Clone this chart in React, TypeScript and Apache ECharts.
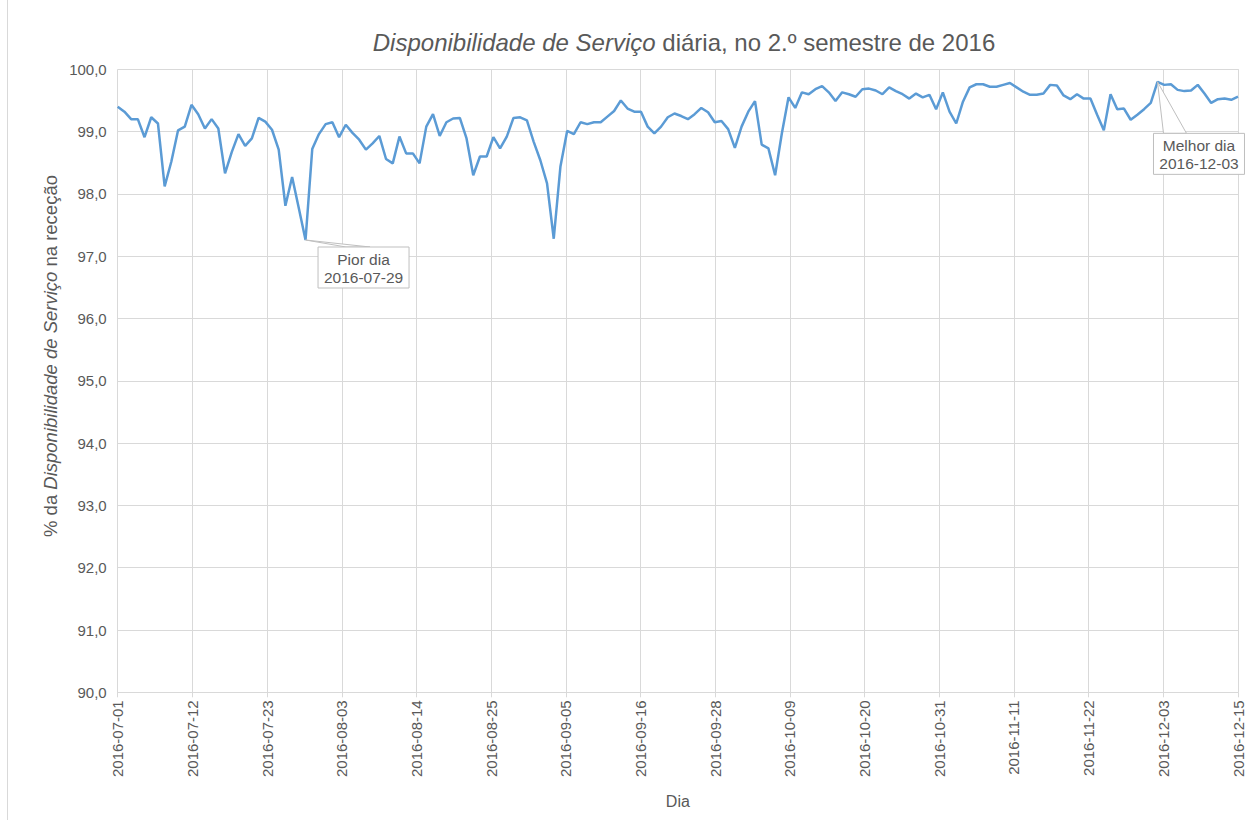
import React, { useEffect, useRef } from "react";
import * as echarts from "echarts";

const START_UTC = Date.UTC(2016, 6, 1);

const availability: number[] = [
  99.40, 99.32, 99.20, 99.20, 98.91, 99.23, 99.13, 98.12, 98.52, 99.02,
  99.08, 99.43, 99.28, 99.05, 99.20, 99.05, 98.33, 98.67, 98.96, 98.77,
  98.89, 99.22, 99.16, 99.03, 98.71, 97.81, 98.27, 97.77, 97.26, 98.72,
  98.96, 99.12, 99.15, 98.91, 99.11, 98.98, 98.87, 98.71, 98.81, 98.93,
  98.56, 98.49, 98.92, 98.65, 98.65, 98.49, 99.08, 99.28, 98.93, 99.15,
  99.21, 99.22, 98.89, 98.30, 98.60, 98.60, 98.91, 98.73, 98.92, 99.22,
  99.23, 99.18, 98.84, 98.54, 98.17, 97.28, 98.44, 99.01, 98.96, 99.15,
  99.12, 99.15, 99.15, 99.24, 99.33, 99.50, 99.37, 99.32, 99.32, 99.08,
  98.97, 99.08, 99.23, 99.29, 99.25, 99.20, 99.28, 99.38, 99.31, 99.15,
  99.17, 99.04, 98.74, 99.08, 99.32, 99.49, 98.79, 98.73, 98.30, 98.97,
  99.55, 99.38, 99.63, 99.60, 99.68, 99.73, 99.63, 99.49, 99.63, 99.60,
  99.56, 99.68, 99.69, 99.66, 99.60, 99.71, 99.65, 99.60, 99.53, 99.61,
  99.55, 99.59, 99.36, 99.63, 99.32, 99.13, 99.48, 99.71, 99.76, 99.76,
  99.72, 99.72, 99.75, 99.78, 99.71, 99.64, 99.59, 99.59, 99.61, 99.75,
  99.74, 99.58, 99.52, 99.60, 99.53, 99.53, 99.27, 99.02, 99.60, 99.36,
  99.37, 99.19, 99.27, 99.36, 99.46, 99.80, 99.75, 99.76, 99.67, 99.65,
  99.66, 99.75, 99.61, 99.46, 99.52, 99.53, 99.51, 99.56,
];

const dayIndex: number[] = availability.map((_, i) => i);
const dayLabels: string[] = dayIndex.map((i) =>
  new Date(START_UTC + i * 86400000).toISOString().slice(0, 10)
);

const TITLE_ITALIC = "Disponibilidade de Serviço";
const TITLE_REST = " diária, no 2.º semestre de 2016";
const Y_NAME_PARTS = ["% da ", "Disponibilidade de Serviço", " na receção"];
const X_NAME = "Dia";
const WORST_TEXT = "Pior dia";
const BEST_TEXT = "Melhor dia";
const Y_MIN = 90;
const Y_MAX = 100;
const Y_STEP = 1;
const X_TICK_COUNT = 15;

const FONT = "'Liberation Sans', Arial, sans-serif";
const TXT = "#595959";
const GRID = "#d9d9d9";
const LINE = "#5b9bd5";
const CALLOUT = "#bfbfbf";

function labelForDay(v: number): string {
  const i = Math.floor(v + 1e-6);
  return new Date(START_UTC + i * 86400000).toISOString().slice(0, 10);
}

export default function App() {
  const ref = useRef<HTMLDivElement | null>(null);

  useEffect(() => {
    if (!ref.current) return;
    const chart = echarts.init(ref.current, undefined, { renderer: "svg" });
    const n = availability.length;
    const seriesData = dayIndex.map((d, i) => [d, availability[i]]);

    chart.setOption({
      animation: false,
      backgroundColor: "#ffffff",
      grid: { left: 117.7, right: 9, top: 69.3, bottom: 127.7, containLabel: false },
      xAxis: {
        type: "value",
        min: 0,
        max: n - 1,
        interval: (n - 1) / X_TICK_COUNT,
        name: X_NAME,
        nameLocation: "middle",
        nameGap: 101,
        nameTextStyle: { color: TXT, fontSize: 16, fontFamily: FONT },
        axisLine: { show: true, lineStyle: { color: GRID, width: 1 } },
        axisTick: { show: true, length: 5, lineStyle: { color: GRID } },
        splitLine: { show: true, lineStyle: { color: GRID, width: 1 } },
        axisLabel: {
          rotate: 90,
          color: TXT,
          fontSize: 15,
          fontFamily: FONT,
          margin: 8,
          showMinLabel: true,
          showMaxLabel: true,
          formatter: (v: number) => labelForDay(v),
        },
      },
      yAxis: {
        type: "value",
        min: Y_MIN,
        max: Y_MAX,
        interval: Y_STEP,
        axisLine: { show: false },
        axisTick: { show: false },
        splitLine: { show: true, lineStyle: { color: GRID, width: 1 } },
        axisLabel: {
          color: TXT,
          fontSize: 15,
          fontFamily: FONT,
          margin: 11,
          formatter: (v: number) => v.toFixed(1).replace(".", ","),
        },
      },
      series: [
        {
          type: "line",
          data: seriesData,
          showSymbol: false,
          symbol: "none",
          lineStyle: { color: LINE, width: 2.5 },
          itemStyle: { color: LINE },
        },
      ],
    });

    let worst = 0;
    let best = 0;
    availability.forEach((v, i) => {
      if (v < availability[worst]) worst = i;
      if (v > availability[best]) best = i;
    });
    const pw = chart.convertToPixel({ xAxisIndex: 0, yAxisIndex: 0 }, [worst, availability[worst]]) as number[];
    const pb = chart.convertToPixel({ xAxisIndex: 0, yAxisIndex: 0 }, [best, availability[best]]) as number[];

    const callout = (p: number[], dx: number, dy: number, w0: number, w1: number, text: string) => {
      const bx = p[0] + dx;
      const by = p[1] + dy;
      const bw = 91;
      const bh = 41;
      return [
        {
          type: "polygon",
          shape: { points: [[p[0], p[1]], [bx + w0, by], [bx + w1, by]] },
          style: { fill: "#ffffff", stroke: CALLOUT, lineWidth: 1 },
          z: 100,
        },
        {
          type: "rect",
          shape: { x: bx, y: by, width: bw, height: bh },
          style: { fill: "#ffffff", stroke: CALLOUT, lineWidth: 1 },
          z: 101,
        },
        {
          type: "text",
          x: bx + bw / 2,
          y: by + bh / 2 + 1,
          style: {
            text,
            fill: TXT,
            fontSize: 15.5,
            fontFamily: FONT,
            align: "center",
            verticalAlign: "middle",
            lineHeight: 18,
          },
          z: 102,
        },
      ];
    };

    chart.setOption({
      graphic: [
        {
          type: "line",
          shape: { x1: 7.5, y1: 0, x2: 7.5, y2: 820 },
          style: { stroke: GRID, lineWidth: 1 },
        },
        {
          type: "text",
          x: 684,
          y: 42,
          style: {
            text: `{i|${TITLE_ITALIC}}{n|${TITLE_REST}}`,
            align: "center",
            verticalAlign: "middle",
            rich: {
              i: { fontSize: 24, fontStyle: "italic", fill: TXT, color: TXT, fontFamily: FONT },
              n: { fontSize: 24, fill: TXT, color: TXT, fontFamily: FONT },
            },
          },
        },
        {
          type: "text",
          x: 50,
          y: 356,
          rotation: Math.PI / 2,
          style: {
            text: `{n|${Y_NAME_PARTS[0]}}{i|${Y_NAME_PARTS[1]}}{n|${Y_NAME_PARTS[2]}}`,
            align: "center",
            verticalAlign: "middle",
            rich: {
              i: { fontSize: 18.5, fontStyle: "italic", fill: TXT, color: TXT, fontFamily: FONT },
              n: { fontSize: 18.5, fill: TXT, color: TXT, fontFamily: FONT },
            },
          },
        },
        ...callout(pw, 12.5, 7, 28, 52, `${WORST_TEXT}\n${dayLabels[worst]}`),
        ...callout(pb, -4, 51.6, 10, 33, `${BEST_TEXT}\n${dayLabels[best]}`),
      ],
    });

    return () => chart.dispose();
  }, []);

  return (
    <div
      ref={ref}
      style={{ position: "absolute", left: 0, top: 0, width: 1247, height: 820 }}
    />
  );
}
